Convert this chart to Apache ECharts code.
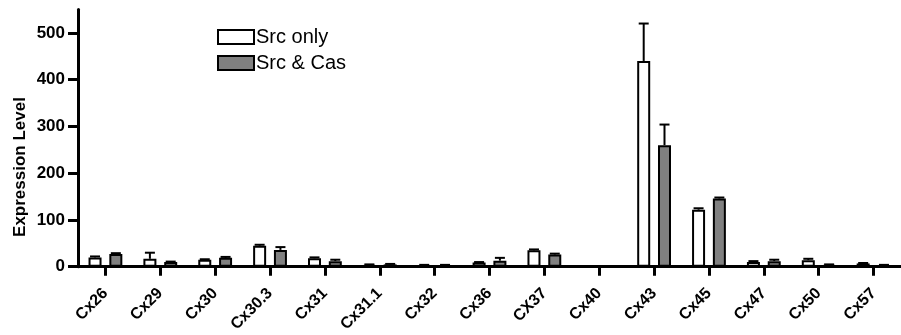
<!DOCTYPE html>
<html>
<head>
<meta charset="utf-8">
<script src="https://cdn.jsdelivr.net/npm/echarts@6/dist/echarts.min.js"></script>
<style>
html,body{margin:0;padding:0;background:#fff;}
#chart{width:901px;height:335px;}
</style>
</head>
<body>
<div id="chart"></div>
<script>
const categories = ['Cx26','Cx29','Cx30','Cx30.3','Cx31','Cx31.1','Cx32','Cx36','CX37','Cx40','Cx43','Cx45','Cx47','Cx50','Cx57'];
const srcOnly    = [20, 17, 15, 45, 18, 4, 3, 9, 35, 0, 440, 122, 10, 14, 7];
const srcOnlyErr = [2, 13, 1, 2, 2, 1, 1, 1, 2, 0, 80, 3, 2, 3, 1];
const srcCas     = [27, 10, 19, 36, 12, 5, 3, 13, 26, 0, 260, 146, 12, 4, 3];
const srcCasErr  = [2, 1, 2, 6, 3, 1, 1, 6, 2, 0, 44, 2, 3, 1, 1];
const yTicks = [0, 100, 200, 300, 400, 500];
const seriesNames = ['Src only', 'Src & Cas'];

const FONT = 'Liberation Sans, Arial, sans-serif';
const BAR_W = 13;
const BAR_GAP = 0.6;
const offset = (BAR_W + BAR_W * BAR_GAP) / 2;

function errSeries(vals, errs, dir, name) {
  return {
    type: 'custom',
    name: name + ' err',
    z: 5,
    silent: true,
    data: vals.map((v, i) => [i, v, v + errs[i]]),
    renderItem: function (params, api) {
      const i = api.value(0);
      const p0 = api.coord([i, api.value(1)]);
      const p1 = api.coord([i, api.value(2)]);
      const x = p0[0] + dir * offset;
      const cw = 5;
      const st = { stroke: '#000', lineWidth: 2 };
      return {
        type: 'group',
        children: [
          { type: 'line', shape: { x1: x, y1: p0[1], x2: x, y2: p1[1] }, style: st },
          { type: 'line', shape: { x1: x - cw, y1: p1[1], x2: x + cw, y2: p1[1] }, style: st }
        ]
      };
    }
  };
}

const chart = echarts.init(document.getElementById('chart'));
chart.setOption({
  animation: false,
  backgroundColor: '#fff',
  textStyle: { fontFamily: FONT },
  grid: { left: 78, right: -4, top: 9.5, bottom: 67, containLabel: false },
  legend: {
    data: seriesNames,
    orient: 'vertical',
    left: 212,
    top: 22,
    itemWidth: 36,
    itemHeight: 14,
    itemGap: 6,
    icon: 'rect',
    textStyle: { fontSize: 20, color: '#000', fontFamily: FONT, padding: [0, 0, 0, -3] }
  },
  xAxis: {
    type: 'category',
    data: categories,
    axisLine: { lineStyle: { color: '#000', width: 3 } },
    axisTick: { show: true, alignWithLabel: true, length: 9, lineStyle: { color: '#000', width: 3 } },
    axisLabel: { rotate: 45, margin: 24, fontSize: 16, fontWeight: 'bold', color: '#000', fontFamily: FONT, interval: 0 }
  },
  yAxis: {
    type: 'value',
    min: 0,
    max: 550,
    interval: 100,
    splitLine: { show: false },
    axisLine: { show: true, lineStyle: { color: '#000', width: 3 } },
    axisTick: { show: true, length: 10, customValues: yTicks, lineStyle: { color: '#000', width: 3 } },
    axisLabel: { customValues: yTicks, margin: 13, fontSize: 17, fontWeight: 'bold', color: '#000', fontFamily: FONT }
  },
  graphic: [{
    type: 'text',
    x: 20, y: 167,
    rotation: Math.PI / 2,
    style: {
      text: 'Expression Level',
      fontSize: 17, fontWeight: 'bold', fontFamily: FONT, fill: '#000',
      align: 'center', verticalAlign: 'middle'
    }
  }],
  series: [
    {
      name: seriesNames[0], type: 'bar', data: srcOnly,
      barWidth: BAR_W, barGap: (BAR_GAP * 100) + '%',
      itemStyle: { color: '#ffffff', borderColor: '#000', borderWidth: 2 }
    },
    {
      name: seriesNames[1], type: 'bar', data: srcCas,
      barWidth: BAR_W, barGap: (BAR_GAP * 100) + '%',
      itemStyle: { color: '#808080', borderColor: '#000', borderWidth: 2 }
    },
    errSeries(srcOnly, srcOnlyErr, -1, seriesNames[0]),
    errSeries(srcCas, srcCasErr, 1, seriesNames[1])
  ]
});
</script>
</body>
</html>
